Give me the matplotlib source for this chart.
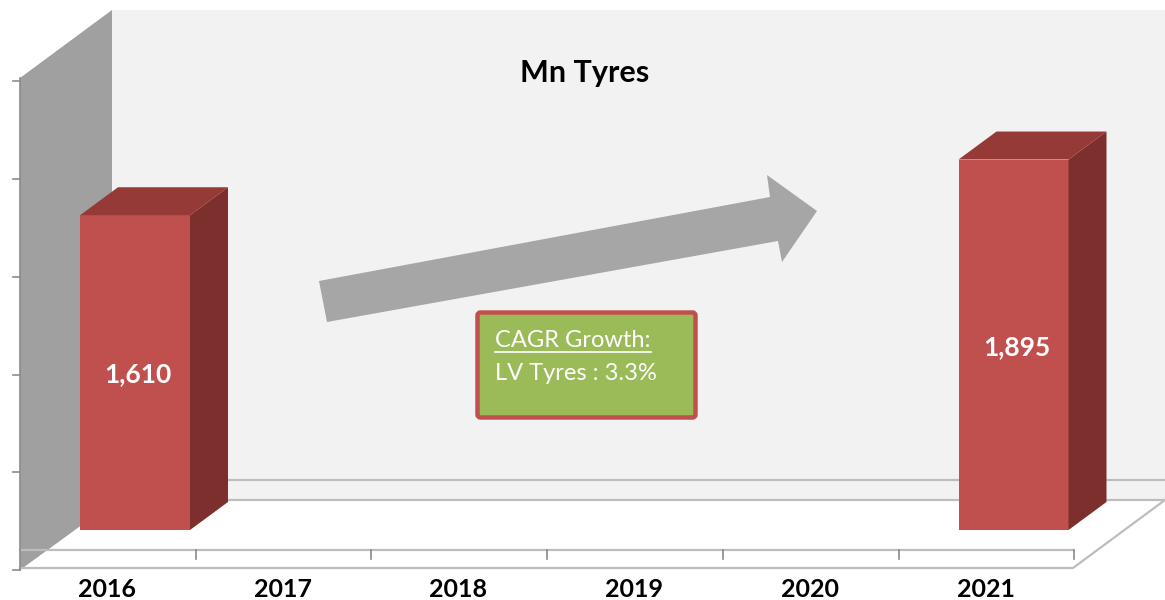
import matplotlib
matplotlib.use("Agg")
import matplotlib.pyplot as plt
from matplotlib.patches import Polygon, Rectangle, FancyBboxPatch

plt.rcParams['font.family'] = ['Lato', 'DejaVu Sans']

# data
years = ['2016', '2017', '2018', '2019', '2020', '2021']
values = [1610, None, None, None, None, 1895]
value_ticks = [0, 500, 1000, 1500, 2000, 2500]
title = 'Mn Tyres'
cagr_head = 'CAGR Growth:'
cagr_text = 'LV Tyres : 3.3%'

# colours
FRONT = '#c0504d'
TOP = '#953a37'
SIDE = '#7c2f2d'
WALL = '#f2f2f2'
SIDE_WALL = '#a0a0a0'
GRID = '#bdbdbd'

W, H = 1165, 600
# pixel geometry of the fake 3d box
X0, CW = 135, 175.7      # front centre of first bar, category width (px)
Y0, K = 530, 0.1955      # bar base (px), px per unit
HW = 55 / CW             # half bar width (data)
DX, DY = 38 / CW, 28 / K  # bar depth (data)

fig = plt.figure(figsize=(W / 100, H / 100), dpi=100)
bg = fig.add_axes([0, 0, 1, 1])
bg.set_xlim(0, W)
bg.set_ylim(H, 0)
bg.axis('off')

# back wall and floor band
bg.add_patch(Rectangle((112, 10), W - 112, 490, facecolor=WALL, edgecolor='none'))
bg.plot([112, W], [480, 480], color=GRID, lw=1.6)
# floor
bg.add_patch(Polygon([(20, 568), (1073, 568), (1165, 500), (112, 500)],
                     closed=True, facecolor='white', edgecolor='none'))
bg.plot([112, W], [500, 500], color=GRID, lw=1.6)
bg.plot([20, 1073, 1165], [568, 568, 500], color=GRID, lw=1.6)
bg.plot([20, 1073], [550, 550], color=GRID, lw=1.6)
for i in range(1, len(years) + 1):
    x = 20 + CW * i
    bg.plot([x, x], [550, 559], color='#8a8a8a', lw=1.2)

# left side wall
bg.add_patch(Polygon([(20, 78), (112, 10), (112, 503), (20, 570)],
                     closed=True, facecolor=SIDE_WALL, edgecolor='none'))
bg.plot([20, 20], [78, 570], color='#8c8c8c', lw=1.2)
for t in value_ticks:
    y = 570 - K * t
    bg.plot([13, 20], [y, y], color='#8c8c8c', lw=1.2)

# growth arrow
bg.add_patch(Polygon([(319, 281), (770, 197), (767, 175), (817, 211),
                      (782, 262), (778, 241), (327, 322)],
                     closed=True, facecolor='#a6a6a6', edgecolor='none'))

# CAGR box
bg.add_patch(FancyBboxPatch((477.5, 312.5), 218, 105,
                            boxstyle='round,pad=0,rounding_size=3',
                            facecolor='#9bbb59', edgecolor=FRONT, lw=3.2))
head = bg.text(495, 347, cagr_head, color='white', fontsize=17, va='baseline')
bg.text(495, 380, cagr_text, color='white', fontsize=17, va='baseline')

bg.text(585, 82, title, fontsize=22, fontweight='bold', ha='center', va='baseline')

# bars in value space
ax = fig.add_axes([0, 0, 1, 1])
ax.set_xlim(-X0 / CW, (W - X0) / CW)
ax.set_ylim((Y0 - H) / K, Y0 / K)
ax.patch.set_alpha(0)
ax.axis('off')

for i, v in enumerate(values):
    if v is None:
        continue
    ax.bar(i, v, width=2 * HW, color=FRONT, linewidth=0)
    ax.add_patch(Polygon([(i - HW, v), (i + HW, v), (i + HW + DX, v + DY),
                          (i - HW + DX, v + DY)], closed=True,
                         facecolor=TOP, edgecolor='none'))
    ax.add_patch(Polygon([(i + HW, 0), (i + HW + DX, DY), (i + HW + DX, v + DY),
                          (i + HW, v)], closed=True,
                         facecolor=SIDE, edgecolor='none'))
    ax.text(i + 3 / CW, v / 2 - 2 / K, f'{v:,}', color='white', fontsize=19,
            fontweight='bold', ha='center', va='center')

for i, yr in enumerate(years):
    ax.text(i - 28 / CW, (Y0 - 597) / K, yr, fontsize=18, fontweight='bold',
            ha='center', va='baseline')

# underline for the box heading
fig.canvas.draw()
bb = head.get_window_extent().transformed(bg.transData.inverted())
bg.plot([bb.x0, bb.x1], [352, 352], color='white', lw=1.2)

fig.savefig('out.png', dpi=100)
plt.close(fig)
